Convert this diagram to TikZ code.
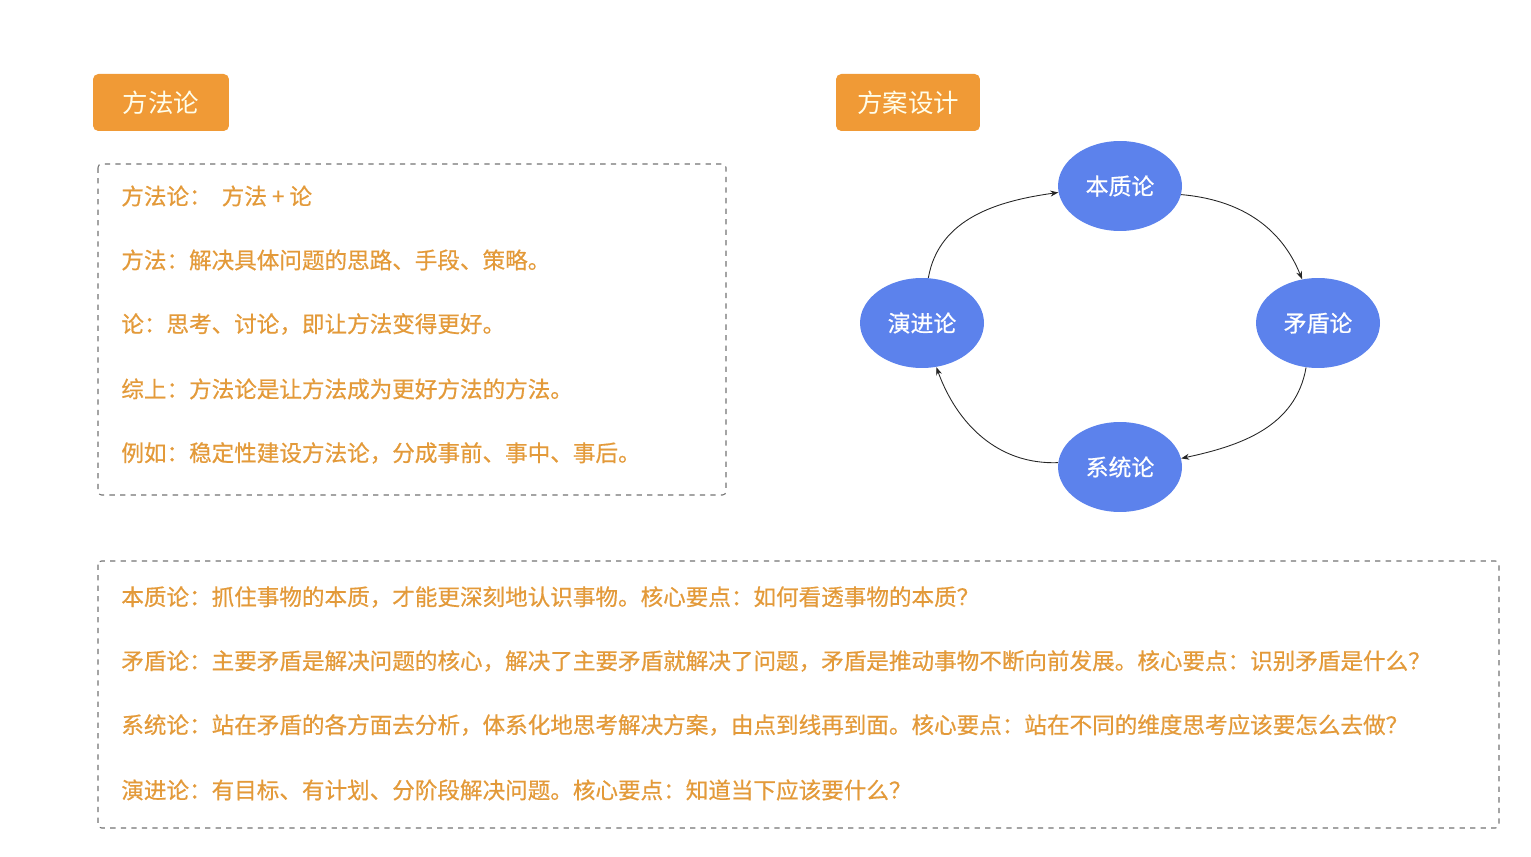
\documentclass[tikz,border=0pt]{standalone}
\usepackage{fontspec}
\usepackage{xcolor}
\usetikzlibrary{shapes.geometric, arrows.meta, positioning}
\newfontfamily\cjk{Noto Sans CJK SC}
\newfontfamily\cjkheavy[FakeBold=0.6]{Noto Sans CJK SC}
\definecolor{tagorange}{HTML}{F09A36}
\definecolor{txtorange}{HTML}{E39A3A}
\definecolor{nodeblue}{HTML}{5C82EC}

\begin{document}
\begin{tikzpicture}[x=0.02cm, y=-0.02cm]
\tikzset{
  tag/.style={rectangle,rounded corners=3pt,fill=tagorange,text=white!92!yellow,minimum height=1.14cm,font=\cjk\fontsize{14.5}{16}\selectfont},
  line/.style={anchor=west,inner sep=0pt,text=txtorange,font=\cjkheavy\fontsize{12.85}{14}\selectfont},
  idea/.style={ellipse,fill=nodeblue,text=white,minimum width=2.48cm,minimum height=1.8cm,inner sep=0pt,font=\cjkheavy\fontsize{13}{15}\selectfont},
  ar/.style={-{Stealth[length=1.6mm,width=1.2mm]},line width=0.5pt,draw=black!85},
  zone/.style={draw=black!55,dashed,line width=0.6pt,rounded corners=2pt}
}
\useasboundingbox (0,0) rectangle (1531,857);
% ---- tags
\node[tag,minimum width=2.72cm] (tmeth) at (161,102.5) {方法论};
\node[tag,minimum width=2.88cm] (tplan) at (908,102.5) {方案设计};
% ---- method box
\draw[zone] (98,164) rectangle (726,495);
\node[line] (m1) at (121,196) {方法论：\ \ 方法 + 论};
\node[line] (m2) at (121,260) {方法：解决具体问题的思路、手段、策略。};
\node[line] (m3) at (121,324) {论：思考、讨论，即让方法变得更好。};
\node[line] (m4) at (121,389) {综上：方法论是让方法成为更好方法的方法。};
\node[line] (m5) at (121,453) {例如：稳定性建设方法论，分成事前、事中、事后。};
% ---- cycle
\node[idea] (bzl) at (1120,186) {本质论};
\node[idea] (mdl) at (1318,323) {矛盾论};
\node[idea] (xtl) at (1120,467) {系统论};
\node[idea] (yjl) at (922,323) {演进论};
\draw[ar] (yjl.82) to[out=80,in=188] (bzl.186);
\draw[ar] (bzl.-8) to[out=-5,in=112] (mdl.110);
\draw[ar] (mdl.-105) to[out=-100,in=12] (xtl.8);
\draw[ar] (xtl.176) to[out=182,in=-70] (yjl.-72);
% ---- theory box
\draw[zone] (98,561) rectangle (1499,828);
\node[line] (d1) at (121,597) {本质论：抓住事物的本质，才能更深刻地认识事物。核心要点：如何看透事物的本质？};
\node[line] (d2) at (121,661) {矛盾论：主要矛盾是解决问题的核心，解决了主要矛盾就解决了问题，矛盾是推动事物不断向前发展。核心要点：识别矛盾是什么？};
\node[line] (d3) at (121,725) {系统论：站在矛盾的各方面去分析，体系化地思考解决方案，由点到线再到面。核心要点：站在不同的维度思考应该要怎么去做？};
\node[line] (d4) at (121,790) {演进论：有目标、有计划、分阶段解决问题。核心要点：知道当下应该要什么？};
\end{tikzpicture}
\end{document}
